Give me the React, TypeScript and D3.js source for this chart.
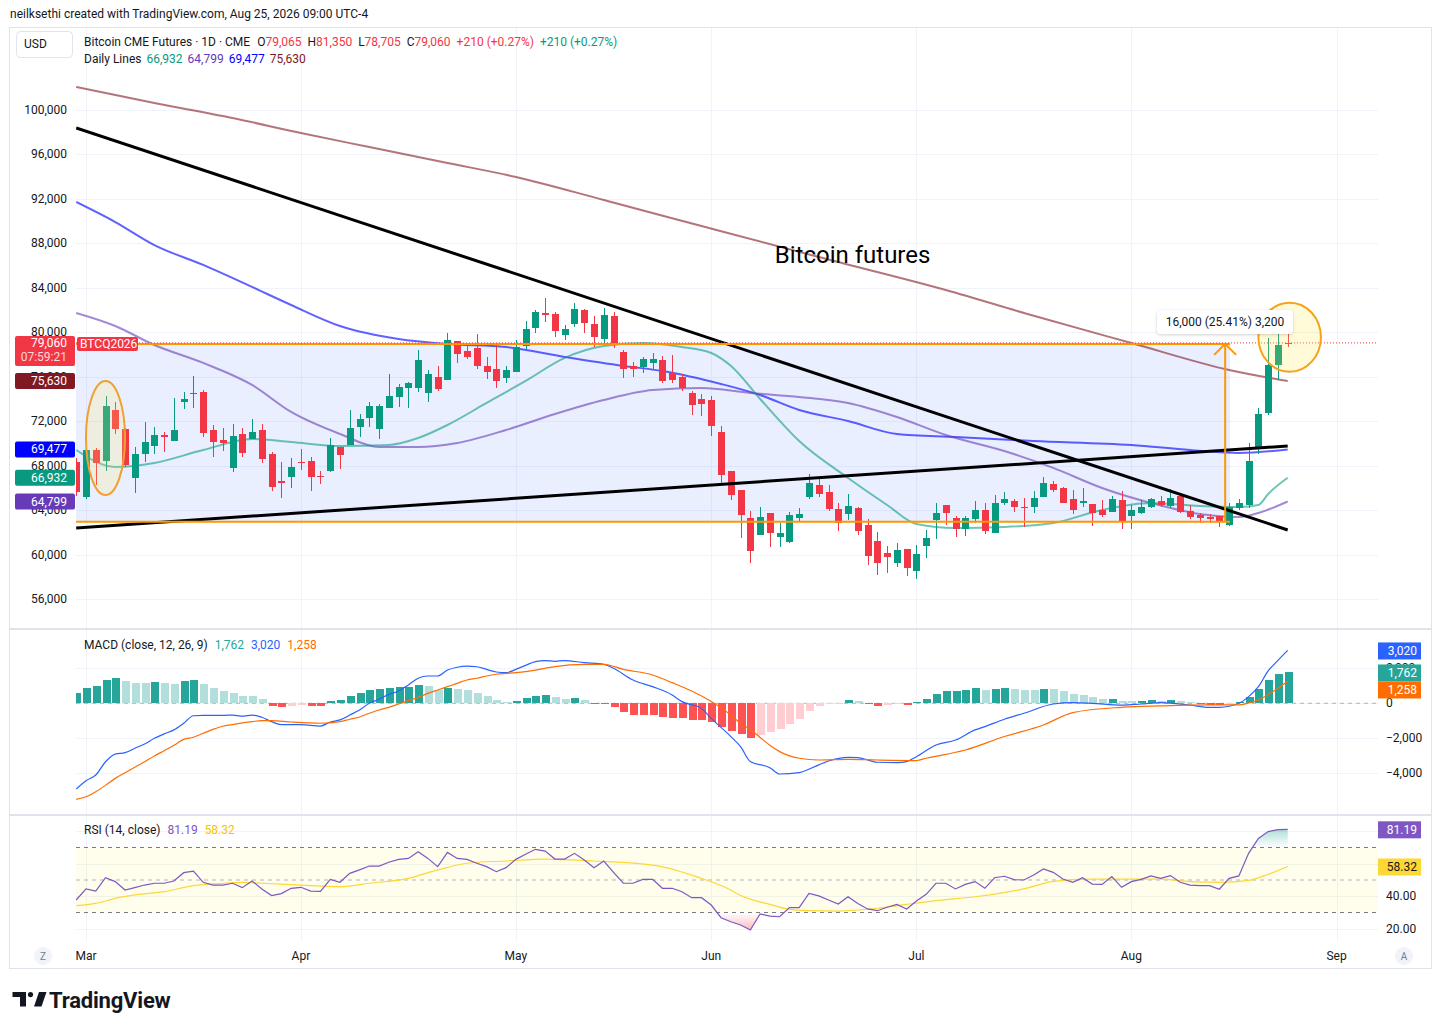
import React from "react";
import * as d3 from "d3";

// daily bars, Feb 27 -> Aug 25 (bar index 0..124)
const opens = [
  68360, 65210, 69430, 68450, 73030, 71320, 66920, 69070, 69790, 70780,
  70240, 73750, 74470, 74650, 71230, 70330, 67820, 70870, 70420, 71230,
  69070, 66650, 67010, 68360, 68450, 67100, 67550, 69700, 69880, 71500,
  72310, 71320, 73210, 74200, 75010, 75010, 74560, 76000, 75730, 79230,
  78330, 78600, 76990, 76720, 75910, 76450, 78780, 80400, 81750, 81660,
  79770, 80760, 82020, 80760, 79410, 81480, 78240, 76990, 76900, 77260,
  77530, 76360, 76000, 74560, 74020, 73930, 71050, 67550, 65840, 63320,
  61790, 63770, 61610, 61160, 63320, 65210, 66290, 65660, 64130, 63680,
  64220, 62690, 61250, 60170, 59280, 60530, 58560, 60800, 63140, 64490,
  63320, 62330, 63230, 64040, 61970, 64670, 64850, 64310, 64310, 65210,
  66380, 66020, 65030, 64670, 64580, 64040, 63860, 64940, 63500, 63770,
  64310, 64850, 64400, 65300, 63950, 63590, 63410, 63500, 62690, 64220,
  64490, 69700, 72760, 77080, 79065,
];
const highs = [
  68720, 70330, 69610, 74290, 73750, 71410, 69700, 71950, 71500, 71050,
  74110, 74650, 76090, 74830, 71680, 71410, 71770, 71410, 72220, 71770,
  69250, 68360, 68720, 69520, 68810, 67550, 70510, 69700, 73030, 72670,
  73750, 73570, 76270, 75370, 75550, 78420, 76630, 76990, 79950, 79230,
  79050, 79860, 77800, 79050, 76990, 79320, 81030, 82020, 83100, 81840,
  80670, 82650, 82110, 81480, 82200, 81840, 78420, 77350, 77800, 78150,
  77890, 77980, 76270, 74740, 74470, 74290, 71590, 67550, 65840, 63950,
  64310, 63770, 62870, 63860, 64220, 67280, 66830, 66290, 64670, 65480,
  64310, 63230, 62060, 60800, 61070, 60530, 60890, 62240, 64670, 64490,
  63500, 63500, 64850, 64670, 65390, 65660, 65030, 65120, 65750, 67010,
  66650, 66110, 65840, 66020, 64580, 64940, 65300, 65750, 64490, 64940,
  65120, 65300, 65930, 65480, 64490, 63770, 63680, 63500, 64670, 65030,
  70060, 73210, 79500, 80040, 81350,
];
const lows = [
  65300, 65030, 66290, 67550, 70870, 67910, 65570, 68360, 69070, 69250,
  70240, 73120, 73210, 70600, 68810, 69340, 67460, 68810, 70420, 68270,
  65750, 65120, 66020, 67640, 65750, 66380, 67460, 67730, 69880, 70600,
  71500, 70420, 73210, 73300, 73210, 74650, 73750, 74740, 75730, 77260,
  77620, 76720, 75820, 75010, 75460, 76450, 78420, 79950, 80940, 79590,
  79320, 80490, 79950, 78690, 79050, 78600, 75910, 76000, 76360, 76720,
  75460, 75460, 74740, 72580, 72490, 70690, 66470, 64940, 61520, 59280,
  61790, 60710, 60710, 61070, 62960, 65030, 65210, 63950, 62150, 63140,
  61790, 59100, 58200, 58380, 58920, 58110, 57840, 59720, 61430, 62690,
  61610, 61700, 62870, 61880, 61970, 64490, 63860, 62510, 63770, 65210,
  65660, 64670, 63680, 64310, 62600, 63410, 63860, 62330, 62330, 63680,
  64220, 64310, 64220, 63770, 63230, 62870, 62870, 62510, 62600, 64040,
  64220, 69070, 72580, 75730, 78705,
];
const closes = [
  65660, 69430, 68270, 73390, 71320, 68090, 69070, 70150, 70780, 70600,
  71230, 74020, 74560, 70960, 70150, 70060, 70690, 69160, 71050, 68620,
  66110, 66470, 67910, 68270, 67010, 67010, 69880, 68990, 71410, 72220,
  73390, 73390, 74290, 75100, 75460, 77530, 76270, 74920, 79320, 78060,
  77800, 76990, 76450, 75640, 76630, 78690, 80310, 81840, 81570, 80130,
  80310, 82110, 80850, 79590, 81570, 79050, 76720, 76720, 77620, 77620,
  75640, 75730, 75010, 73480, 73570, 71590, 67190, 65390, 63590, 60350,
  63410, 61970, 61970, 63590, 63680, 66470, 65480, 64130, 62870, 64400,
  62150, 59900, 59280, 59820, 60440, 58830, 60080, 61520, 63770, 63770,
  62330, 63320, 64040, 62150, 64670, 65030, 64310, 64220, 65120, 66470,
  65840, 64670, 64040, 64850, 63770, 63590, 65030, 62960, 64040, 64310,
  65030, 64490, 65120, 63860, 63410, 63320, 63230, 62960, 64310, 64670,
  68450, 72670, 77080, 78850, 79060,
];

// daily lines: [bar index, value]
const ma20: [number, number][] = [
  [0, 69430], [4, 67910], [8, 68270], [13, 69430], [18, 70420], [22, 70150],
  [27, 69790], [32, 69880], [35, 70510], [38, 71680], [42, 73660], [46, 75640],
  [50, 77710], [54, 78780], [58, 79050], [62, 78690], [65, 78150], [67, 77000],
  [70, 74020], [74, 70240], [79, 66920], [83, 64490], [86, 62780], [90, 62420],
  [95, 62510], [100, 62870], [105, 64040], [110, 64670], [115, 64400], [119, 64310],
  [121, 64490], [122, 65480], [124, 66932],
];
const ma50: [number, number][] = [
  [0, 81750], [4, 80580], [8, 78870], [13, 77260], [18, 75280], [22, 72850],
  [27, 70870], [31, 69700], [35, 69700], [39, 70060], [44, 71230], [49, 72670],
  [54, 73930], [59, 74830], [64, 75010], [69, 74560], [74, 74200], [79, 73660],
  [84, 72400], [89, 70780], [95, 69340], [100, 67820], [105, 66020], [110, 64670],
  [115, 63680], [119, 63410], [121, 63770], [124, 64799],
];
const ma100: [number, number][] = [
  [0, 91730], [4, 89930], [8, 87860], [13, 86070], [18, 84090], [22, 82470],
  [27, 80580], [33, 79410], [38, 78960], [44, 78690], [50, 77800], [56, 76990],
  [60, 76540], [66, 75370], [70, 74380], [74, 73030], [79, 72040], [84, 70870],
  [90, 70600], [98, 70240], [108, 69880], [114, 69430], [119, 69160], [124, 69477],
];
const ma200: [number, number][] = [
  [0, 102070], [8, 100630], [16, 99280], [23, 97930], [30, 96670], [38, 95240],
  [45, 93980], [54, 91910], [64, 89570], [76, 86780], [89, 83820], [98, 81500],
  [108, 79050], [118, 76630], [124, 75630],
];

// MACD (12, 26, 9)
const macdHist = [
  610, 876, 990, 1333, 1448, 1276, 1181, 1181, 1190, 1181,
  1105, 1276, 1333, 1105, 876, 705, 590, 419, 410, 248,
  -152, -190, -152, -95, -152, -160, 152, 210, 419, 590,
  762, 819, 876, 933, 940, 1048, 990, 762, 876, 819,
  762, 590, 419, 190, 76, 133, 305, 419, 476, 362,
  248, 305, 190, -38, -38, -190, -476, -667, -670, -675,
  -762, -819, -825, -952, -960, -1048, -1333, -1581, -1752, -1962,
  -1810, -1619, -1467, -1181, -895, -438, -152, -38, -20, 190,
  133, -38, -133, -120, -10, -95, 76, 248, 533, 705,
  710, 762, 876, 762, 838, 876, 819, 762, 762, 819,
  810, 705, 533, 476, 362, 248, 250, 133, 133, 135,
  190, 133, 190, 133, 76, -38, -95, -96, -38, 76,
  377, 819, 1333, 1676, 1762,
];
const macdLine: [number, number][] = [
  [0, -4900], [1, -4420], [2, -4100], [3, -3340], [4, -2900], [5, -2820], [6, -2570],
  [7, -2330], [8, -2000], [9, -1750], [10, -1520], [11, -1140], [12, -710], [13, -690],
  [15, -690], [16, -670], [17, -730], [18, -670], [19, -800], [20, -1050], [21, -1220],
  [23, -1220], [25, -1300], [26, -1070], [27, -950], [28, -670], [29, -380], [30, 0],
  [31, 230], [32, 510], [33, 700], [34, 1050], [35, 1430], [36, 1560], [37, 1560],
  [38, 1900], [39, 2060], [40, 2130], [41, 2090], [42, 1940], [43, 1790], [44, 1750],
  [45, 1940], [46, 2170], [47, 2380], [48, 2440], [49, 2400], [50, 2440], [52, 2320],
  [54, 2230], [55, 2000], [57, 1330], [59, 950], [61, 476], [62, 95], [64, -290],
  [65, -860], [67, -1900], [68, -2480], [69, -3330], [71, -3680], [72, -4040],
  [74, -3960], [76, -3520], [77, -3300], [79, -3090], [80, -3100], [82, -3370],
  [84, -3390], [85, -3330], [86, -3050], [88, -2380], [90, -2100], [92, -1520],
  [93, -1330], [95, -910], [97, -570], [100, -40], [102, 40], [104, 0], [107, -100],
  [109, -40], [111, 40], [114, -100], [116, -230], [117, -230], [119, 0], [120, 380],
  [121, 950], [122, 1850], [123, 2450], [124, 3020],
];
const macdSignal: [number, number][] = [
  [0, -5490], [1, -5340], [2, -5050], [3, -4690], [4, -4290], [5, -3970], [6, -3660],
  [7, -3340], [8, -3010], [9, -2710], [10, -2400], [11, -2060], [12, -1940], [13, -1710],
  [14, -1490], [15, -1310], [16, -1220], [17, -1120], [18, -1050], [19, -990], [20, -990],
  [22, -1070], [25, -1140], [27, -1050], [28, -910], [29, -780], [30, -570], [31, -380],
  [32, -230], [33, -40], [34, 150], [35, 340], [36, 570], [37, 760], [38, 950],
  [39, 1140], [40, 1330], [41, 1430], [42, 1560], [43, 1660], [44, 1710], [45, 1750],
  [46, 1810], [47, 1900], [48, 2000], [49, 2100], [52, 2230], [54, 2230], [56, 1940],
  [59, 1620], [61, 1180], [63, 700], [65, 100], [67, -670], [68, -1150], [69, -1500],
  [70, -1950], [71, -2400], [72, -2760], [74, -3140], [76, -3240], [79, -3200],
  [82, -3240], [86, -3270], [87, -3140], [91, -2670], [95, -1900], [99, -1240],
  [102, -530], [107, -230], [111, -150], [116, -95], [119, -95], [120, 20], [121, 190],
  [122, 500], [123, 860], [124, 1258],
];

// RSI (14)
const rsiValues = [
  37.7, 44.5, 43.2, 51.4, 49, 43.8, 45.3, 46.9, 48, 48,
  49.4, 54.5, 55.5, 48.6, 46.9, 46.9, 48, 45.3, 49.4, 44.5,
  40.4, 41.6, 44.9, 45.5, 43.2, 43, 50.4, 48.6, 54.1, 56.2,
  58.6, 58.6, 60.9, 62.7, 63.3, 67.4, 63.3, 58.2, 67, 63.3,
  62.7, 60.3, 58.2, 55.1, 57.6, 62.7, 65.8, 68.9, 67.8, 62.9,
  62.9, 66.4, 62.3, 57.6, 61.7, 54.7, 48, 48, 50.4, 50.4,
  44.9, 44.9, 42.8, 39.1, 39.1, 34.6, 26.8, 24.3, 22.3, 19.2,
  29.1, 27.8, 27.4, 33, 33, 41.8, 40.2, 37.7, 35.2, 39.7,
  35.6, 32.2, 31.1, 33.2, 35, 32.2, 37.1, 41.2, 48, 48,
  44.5, 47.3, 49, 44.9, 51.4, 52.3, 50.2, 50, 53.1, 56.8,
  54.7, 50.6, 48.6, 51.4, 47.5, 47.3, 52.1, 45.5, 49, 50.4,
  52.5, 51, 52.7, 48.6, 46.9, 46.5, 46.5, 44.3, 51, 52.5,
  66.4, 75.6, 79.8, 81, 81.19,
];
const rsiMa: [number, number][] = [
  [0, 34.2], [2, 35.6], [4, 38.7], [6, 40.8], [9, 42.8], [12, 46.5], [15, 48],
  [17, 48.6], [19, 48], [23, 46.9], [27, 45.9], [30, 48], [34, 51], [37, 56.2],
  [40, 60.3], [44, 61.7], [48, 62.9], [53, 61.7], [59, 59.2], [64, 51], [67, 43.8],
  [68, 40.5], [69, 38.2], [71, 35], [73, 31.9], [75, 31.1], [78, 30.9], [82, 32.6],
  [85, 35], [88, 37.3], [92, 39.7], [97, 44.5], [100, 49.2], [104, 50.6], [107, 50.6],
  [111, 50.6], [114, 49], [117, 48.6], [120, 49.8], [122, 53.5], [124, 58.32],
];

const monthLabels = ["Mar", "Apr", "May", "Jun", "Jul", "Aug", "Sep"];
const monthBars = [1, 23, 45, 65, 86, 108, 129];
const priceTicks = d3.range(56000, 100001, 4000);
const macdTicks = [2000, 0, -2000, -4000];
const rsiGrid = [80, 60, 40, 20];
const rsiTickLabels = [40, 20]; // 60 and 80 sit fully under the value badges

// drawings on the chart
const fallingTrend: [number, number][] = [[0, 98380], [124, 62240]];
const risingTrend: [number, number][] = [[0, 62420], [124, 69790]];
const rangeLow = 62970;
const rangeHigh = 78970;
const rangeEndBar = 118.1;
const arrowBar = 117.6;

const UP = "#089981";
const DOWN = "#f23645";
const TEXT = "#131722";
const GRID = "#f0f3fa";
const FONT = "Roboto, 'Liberation Sans', Arial, sans-serif";

const PL = 76;
const PR = 1378;
const MAIN = [28, 628];
const MACDP = [630, 814];
const RSIP = [816, 941];

const x = d3.scaleLinear().domain([0, 124]).range([76.2, 1287.7]);
const yP = d3.scaleLinear().domain([100000, 56000]).range([110, 599.4]);
const yM = d3.scaleLinear().domain([2000, -4000]).range([668.3, 773.3]);
const yR = d3.scaleLinear().domain([70, 30]).range([847.5, 912.5]);

const fmt = d3.format(",");

export default function App() {
  const n = closes.length;
  const last = n - 1;
  const chg = closes[last] - closes[last - 1];
  const pct = (chg / closes[last - 1]) * 100;
  const chgTxt = `${chg >= 0 ? "+" : ""}${fmt(chg)} (${chg >= 0 ? "+" : ""}${pct.toFixed(2)}%)`;

  const maLine = d3
    .line<[number, number]>()
    .x((d) => x(d[0]))
    .y((d) => yP(d[1]))
    .curve(d3.curveMonotoneX);
  const macdPath = d3
    .line<[number, number]>()
    .x((d) => x(d[0]))
    .y((d) => yM(d[1]))
    .curve(d3.curveMonotoneX);
  const rsiPath = d3
    .line<number>()
    .x((_, i) => x(i))
    .y((d) => yR(d));
  const rsiMaPath = d3
    .line<[number, number]>()
    .x((d) => x(d[0]))
    .y((d) => yR(d[1]))
    .curve(d3.curveMonotoneX);
  const rsiHigh = d3
    .area<number>()
    .x((_, i) => x(i))
    .y0(yR(70))
    .y1((d) => yR(d));
  const rsiLow = d3
    .area<number>()
    .x((_, i) => x(i))
    .y0(yR(30))
    .y1((d) => yR(d));

  const histColor = (i: number) => {
    const v = macdHist[i];
    const p = i > 0 ? macdHist[i - 1] : v - 1;
    if (v >= 0) return p < v ? "#26a69a" : "#b2dfdb";
    return p < v ? "#ffcdd2" : "#ff5252";
  };

  const maBadges = [
    { v: ma200[ma200.length - 1][1], c: "#801922" },
    { v: ma100[ma100.length - 1][1], c: "#0000ff" },
    { v: ma20[ma20.length - 1][1], c: "#089981" },
    { v: ma50[ma50.length - 1][1], c: "#673ab7" },
  ];

  // right-axis badges of MACD pane, pushed apart when they overlap
  const macdBadges = [
    { v: macdLine[macdLine.length - 1][1], c: "#2962ff" },
    { v: macdHist[last], c: "#26a69a" },
    { v: macdSignal[macdSignal.length - 1][1], c: "#ff6d00" },
  ]
    .map((b) => ({ ...b, y: yM(b.v) }))
    .sort((a, b) => a.y - b.y);
  for (let i = 1; i < macdBadges.length; i++) {
    if (macdBadges[i].y - macdBadges[i - 1].y < 17) macdBadges[i].y = macdBadges[i - 1].y + 17;
  }

  const vGrid = monthBars.map((b) => x(b)).filter((v) => v < PR);

  return (
    <div style={{ position: "absolute", left: 0, top: 0, background: "#fff" }}>
      <svg width={1441} height={1030} style={{ display: "block", fontFamily: FONT }}>
        <defs>
          <clipPath id="cMain">
            <rect x={PL} y={MAIN[0]} width={PR - PL} height={MAIN[1] - MAIN[0]} />
          </clipPath>
          <clipPath id="cMacd">
            <rect x={PL} y={MACDP[0]} width={PR - PL} height={MACDP[1] - MACDP[0]} />
          </clipPath>
          <clipPath id="cRsiHi">
            <rect x={PL} y={RSIP[0]} width={PR - PL} height={yR(70) - RSIP[0]} />
          </clipPath>
          <clipPath id="cRsiLo">
            <rect x={PL} y={yR(30)} width={PR - PL} height={RSIP[1] - yR(30)} />
          </clipPath>
          <linearGradient id="gHi" x1="0" y1={yR(82)} x2="0" y2={yR(70)} gradientUnits="userSpaceOnUse">
            <stop offset="0" stopColor="#089981" stopOpacity={0.35} />
            <stop offset="1" stopColor="#089981" stopOpacity={0} />
          </linearGradient>
          <linearGradient id="gLo" x1="0" y1={yR(30)} x2="0" y2={yR(19)} gradientUnits="userSpaceOnUse">
            <stop offset="0" stopColor="#f23645" stopOpacity={0} />
            <stop offset="1" stopColor="#f23645" stopOpacity={0.35} />
          </linearGradient>
          <filter id="shadow" x="-20%" y="-40%" width="140%" height="180%">
            <feDropShadow dx="0" dy="1" stdDeviation="1.5" floodColor="#000" floodOpacity="0.18" />
          </filter>
        </defs>

        <rect width={1441} height={1030} fill="#fff" />
        <text x={10} y={18} fontSize={12} fill={TEXT}>
          neilksethi created with TradingView.com, Aug 25, 2026 09:00 UTC-4
        </text>
        <rect x={9.5} y={27.5} width={1422} height={941} fill="#fff" stroke="#e0e3eb" />

        {/* grid */}
        <g shapeRendering="crispEdges" stroke={GRID}>
          {vGrid.map((gx, i) => (
            <line key={"v" + i} x1={Math.round(gx) + 0.5} x2={Math.round(gx) + 0.5} y1={MAIN[0]} y2={RSIP[1]} />
          ))}
          {priceTicks.map((t) => (
            <line key={"p" + t} x1={PL} x2={PR} y1={Math.round(yP(t)) + 0.5} y2={Math.round(yP(t)) + 0.5} />
          ))}
          {macdTicks.map((t) => (
            <line key={"m" + t} x1={PL} x2={PR} y1={Math.round(yM(t)) + 0.5} y2={Math.round(yM(t)) + 0.5} />
          ))}
          {rsiGrid.map((t) => (
            <line key={"r" + t} x1={PL} x2={PR} y1={Math.round(yR(t)) + 0.5} y2={Math.round(yR(t)) + 0.5} />
          ))}
        </g>

        {/* pane separators */}
        <g stroke="#e0e3eb" strokeWidth={2}>
          <line x1={10} x2={1431} y1={629} y2={629} />
          <line x1={10} x2={1431} y1={815} y2={815} />
        </g>

        {/* ---------- main pane ---------- */}
        <g clipPath="url(#cMain)">
          <rect
            x={x(-10)}
            y={yP(rangeHigh)}
            width={x(rangeEndBar) - x(-10)}
            height={yP(rangeLow) - yP(rangeHigh)}
            fill="rgba(41,98,255,0.1)"
          />
          <path d={maLine(ma200) || ""} fill="none" stroke="#801922" strokeOpacity={0.6} strokeWidth={2} />
          <path d={maLine(ma100) || ""} fill="none" stroke="#0000ff" strokeOpacity={0.62} strokeWidth={2} />
          <path d={maLine(ma50) || ""} fill="none" stroke="#673ab7" strokeOpacity={0.6} strokeWidth={2} />
          <path d={maLine(ma20) || ""} fill="none" stroke="#089981" strokeOpacity={0.58} strokeWidth={2} />

          <g shapeRendering="crispEdges">
            {closes.map((c, i) => {
              const o = opens[i];
              const col = c >= o ? UP : DOWN;
              const xc = Math.round(x(i));
              const top = yP(Math.max(o, c));
              const h = Math.max(1, Math.abs(yP(o) - yP(c)));
              return (
                <g key={i} fill={col}>
                  <rect x={xc} y={yP(highs[i])} width={1} height={yP(lows[i]) - yP(highs[i])} />
                  <rect x={xc - 3} y={top} width={7} height={h} />
                </g>
              );
            })}
          </g>

          <path d={d3.line()(fallingTrend.map((d) => [x(d[0]), yP(d[1])]) as any) || ""} stroke="#000" strokeWidth={3} />
          <path d={d3.line()(risingTrend.map((d) => [x(d[0]), yP(d[1])]) as any) || ""} stroke="#000" strokeWidth={3} />

          <line x1={x(-10)} x2={x(rangeEndBar)} y1={yP(rangeHigh)} y2={yP(rangeHigh)} stroke="#ff9800" strokeWidth={2} />
          <line x1={x(-10)} x2={x(rangeEndBar)} y1={yP(rangeLow)} y2={yP(rangeLow)} stroke="#ff9800" strokeWidth={2} />
          <g stroke="#ff9800" strokeWidth={2} fill="none">
            <line x1={x(arrowBar)} x2={x(arrowBar)} y1={yP(rangeLow)} y2={yP(rangeHigh)} />
            <polyline
              points={`${x(arrowBar) - 11},${yP(rangeHigh) + 11} ${x(arrowBar)},${yP(rangeHigh)} ${x(arrowBar) + 11},${yP(rangeHigh) + 11}`}
            />
          </g>
          <line x1={PL} x2={PR} y1={yP(closes[last])} y2={yP(closes[last])} stroke={DOWN} strokeDasharray="1 2" />

          <ellipse
            cx={(x(1) + x(5)) / 2}
            cy={(yP(65380) + yP(75630)) / 2}
            rx={(x(5) - x(1)) / 2}
            ry={(yP(65380) - yP(75630)) / 2}
            fill="rgba(255,230,100,0.2)"
            stroke="#f0a030"
            strokeWidth={2}
          />
          <ellipse
            cx={(x(121) + x(127.4)) / 2}
            cy={(yP(76470) + yP(82680)) / 2}
            rx={(x(127.4) - x(121)) / 2}
            ry={(yP(76470) - yP(82680)) / 2}
            fill="rgba(255,235,59,0.2)"
            stroke="#f7a21b"
            strokeWidth={2}
          />

          <text x={x(71.5)} y={yP(86960) + 8} fontSize={24} fill="#000">
            Bitcoin futures
          </text>

          <g filter="url(#shadow)">
            <rect x={1157} y={310} width={136} height={24} rx={4} fill="#fff" />
          </g>
          <text x={1225} y={326} fontSize={12} fill={TEXT} textAnchor="middle">
            {`${fmt(rangeHigh - rangeLow)} (${(((rangeHigh - rangeLow) / rangeLow) * 100).toFixed(2)}%) 3,200`}
          </text>
        </g>

        {/* left price axis */}
        <g fontSize={12} fill={TEXT} textAnchor="end">
          {priceTicks.map((t) => (
            <text key={t} x={67} y={yP(t) + 4}>
              {fmt(t)}
            </text>
          ))}
        </g>
        <g fontSize={12} fill="#fff">
          {maBadges.map((b) => (
            <g key={b.c}>
              <rect x={15} y={yP(b.v) - 8} width={60} height={16} rx={2} fill={b.c} />
              <text x={67} y={yP(b.v) + 4} textAnchor="end">
                {fmt(b.v)}
              </text>
            </g>
          ))}
          <rect x={15} y={yP(closes[last]) - 7} width={60} height={30} rx={2} fill={DOWN} />
          <text x={67} y={yP(closes[last]) + 4} textAnchor="end">
            {fmt(closes[last])}
          </text>
          <text x={67} y={yP(closes[last]) + 18} textAnchor="end" fill="#ffd6da">
            07:59:21
          </text>
          <rect x={77} y={yP(closes[last]) - 6} width={61} height={14} rx={2} fill={DOWN} />
          <text x={80} y={yP(closes[last]) + 5}>BTCQ2026</text>
        </g>

        {/* legend */}
        <rect x={16.5} y={31.5} width={56} height={26} rx={4} fill="#fff" stroke="#e0e3eb" />
        <text x={24} y={48} fontSize={12} fill={TEXT}>
          USD
        </text>
        <text x={84} y={46} fontSize={12} fill={TEXT}>
          Bitcoin CME Futures · 1D · CME
          <tspan dx={7}>O</tspan>
          <tspan fill={DOWN}>{fmt(opens[last])}</tspan>
          <tspan dx={6}>H</tspan>
          <tspan fill={DOWN}>{fmt(highs[last])}</tspan>
          <tspan dx={6}>L</tspan>
          <tspan fill={DOWN}>{fmt(lows[last])}</tspan>
          <tspan dx={6}>C</tspan>
          <tspan fill={DOWN}>{fmt(closes[last])}</tspan>
          <tspan dx={6} fill={DOWN}>{chgTxt}</tspan>
          <tspan dx={6} fill={UP}>{chgTxt}</tspan>
        </text>
        <text x={84} y={63} fontSize={12} fill={TEXT}>
          Daily Lines
          <tspan dx={5} fill="#089981">{fmt(ma20[ma20.length - 1][1])}</tspan>
          <tspan dx={5} fill="#673ab7">{fmt(ma50[ma50.length - 1][1])}</tspan>
          <tspan dx={5} fill="#0000ff">{fmt(ma100[ma100.length - 1][1])}</tspan>
          <tspan dx={5} fill="#801922">{fmt(ma200[ma200.length - 1][1])}</tspan>
        </text>

        {/* ---------- MACD pane ---------- */}
        <g clipPath="url(#cMacd)">
          <line x1={PL} x2={PR} y1={yM(0)} y2={yM(0)} stroke="#b2b5be" strokeDasharray="4 4" />
          <g shapeRendering="crispEdges">
            {macdHist.map((v, i) => (
              <rect
                key={i}
                x={Math.round(x(i)) - 3.5}
                y={Math.min(yM(0), yM(v))}
                width={8}
                height={Math.max(1, Math.abs(yM(v) - yM(0)))}
                fill={histColor(i)}
              />
            ))}
          </g>
          <path d={macdPath(macdLine) || ""} fill="none" stroke="#2962ff" strokeWidth={1.2} />
          <path d={macdPath(macdSignal) || ""} fill="none" stroke="#ff6d00" strokeWidth={1.2} />
        </g>
        <text x={84} y={649} fontSize={12} fill={TEXT}>
          MACD (close, 12, 26, 9)
          <tspan dx={7} fill="#26a69a">{fmt(macdHist[last])}</tspan>
          <tspan dx={7} fill="#2962ff">{fmt(macdLine[macdLine.length - 1][1])}</tspan>
          <tspan dx={7} fill="#ff6d00">{fmt(macdSignal[macdSignal.length - 1][1])}</tspan>
        </text>
        <g fontSize={12} fill={TEXT}>
          {macdTicks.map((t) => (
            <text key={t} x={1386} y={yM(t) + 4}>
              {fmt(t)}
            </text>
          ))}
        </g>
        {macdBadges.map((b) => (
          <g key={b.c}>
            <rect x={1378} y={b.y - 8} width={43} height={17} fill={b.c} />
            <text x={1417} y={b.y + 4.5} fontSize={12} fill="#fff" textAnchor="end">
              {fmt(b.v)}
            </text>
          </g>
        ))}

        {/* ---------- RSI pane ---------- */}
        <rect x={PL} y={yR(70)} width={PR - PL} height={yR(30) - yR(70)} fill="rgba(255,235,59,0.1)" />
        <g strokeDasharray="4 4">
          <line x1={PL} x2={PR} y1={yR(70)} y2={yR(70)} stroke="#787b86" />
          <line x1={PL} x2={PR} y1={yR(50)} y2={yR(50)} stroke="#b2b5be" />
          <line x1={PL} x2={PR} y1={yR(30)} y2={yR(30)} stroke="#787b86" />
        </g>
        <path d={rsiHigh(rsiValues) || ""} fill="url(#gHi)" clipPath="url(#cRsiHi)" />
        <path d={rsiLow(rsiValues) || ""} fill="url(#gLo)" clipPath="url(#cRsiLo)" />
        <path d={rsiMaPath(rsiMa) || ""} fill="none" stroke="#fdd835" strokeWidth={1.2} />
        <path d={rsiPath(rsiValues) || ""} fill="none" stroke="#7e57c2" strokeWidth={1.2} />
        <text x={84} y={834} fontSize={12} fill={TEXT}>
          RSI (14, close)
          <tspan dx={7} fill="#7e57c2">{rsiValues[last].toFixed(2)}</tspan>
          <tspan dx={7} fill="#f5c400">{rsiMa[rsiMa.length - 1][1].toFixed(2)}</tspan>
        </text>
        <g fontSize={12} fill={TEXT}>
          {rsiTickLabels.map((t) => (
            <text key={t} x={1386} y={yR(t) + 4}>
              {t.toFixed(2)}
            </text>
          ))}
        </g>
        <rect x={1378} y={yR(rsiValues[last]) - 8} width={43} height={17} fill="#7e57c2" />
        <text x={1417} y={yR(rsiValues[last]) + 4.5} fontSize={12} fill="#fff" textAnchor="end">
          {rsiValues[last].toFixed(2)}
        </text>
        <rect x={1378} y={yR(rsiMa[rsiMa.length - 1][1]) - 8} width={43} height={17} fill="#fdd835" />
        <text x={1417} y={yR(rsiMa[rsiMa.length - 1][1]) + 4.5} fontSize={12} fill={TEXT} textAnchor="end">
          {rsiMa[rsiMa.length - 1][1].toFixed(2)}
        </text>

        {/* time axis */}
        <g fontSize={12} fill={TEXT} textAnchor="middle">
          {monthLabels.map((m, i) => (
            <text key={m} x={x(monthBars[i])} y={960}>
              {m}
            </text>
          ))}
        </g>
        <circle cx={43} cy={956} r={9} fill={GRID} />
        <text x={43} y={960} fontSize={10} fill="#787b86" textAnchor="middle">
          Z
        </text>
        <circle cx={1404} cy={956} r={9} fill={GRID} />
        <text x={1404} y={960} fontSize={10} fill="#787b86" textAnchor="middle">
          A
        </text>

        {/* TradingView logo */}
        <g fill="#131722">
          <path d="M12.5 992 H26 V1006.5 H20 V997 H12.5 Z" />
          <circle cx={30.5} cy={994.6} r={2.6} />
          <path d="M39 992 H46.5 L41.5 1006.5 H34 Z" />
          <text x={49} y={1007.5} fontSize={22} fontWeight={700} letterSpacing={-0.2}>
            TradingView
          </text>
        </g>
      </svg>
    </div>
  );
}
